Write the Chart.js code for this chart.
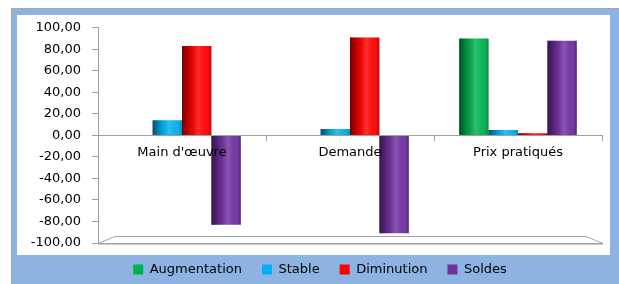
<!DOCTYPE html>
<html><head><meta charset="utf-8">
<script src="https://cdn.jsdelivr.net/npm/chart.js@4"></script>
<style>
html,body{margin:0;padding:0;background:#fff;width:619px;height:284px;overflow:hidden;}
#frame{position:absolute;left:11px;top:8px;width:620px;height:290px;border-left:1px solid #A6A6A6;border-top:1px solid #A6A6A6;background:#8DB3E2;}
#panel{position:absolute;left:17px;top:15px;width:593px;height:240px;background:#fff;}
#c{position:absolute;left:12px;top:9px;}
</style></head><body>
<div id="frame"></div><div id="panel"></div>
<canvas id="c" width="607" height="277"></canvas>
<script>
const categories = ["Main d'œuvre", "Demande", "Prix pratiqués"];
const augmentation = [0, 0, 90];
const stable = [14, 6, 5];
const diminution = [83, 91, 2];
const soldes = [-83, -91, 88];
const seriesNames = ["Augmentation", "Stable", "Diminution", "Soldes"];
const yTicks = [-100, -80, -60, -40, -20, 0, 20, 40, 60, 80, 100];

const FONT = {family: "'DejaVu Sans'", size: 13};

const floorPlugin = {
  id: 'floor',
  afterLayout(chart) {
    if (chart.legend) { chart.legend.left += 26; }
  },
  beforeDatasetsDraw(chart) {
    const {ctx, chartArea: a, scales: {y}} = chart;
    const b = Math.round(y.getPixelForValue(-100));
    ctx.save();
    ctx.strokeStyle = '#A6A6A6';
    ctx.lineWidth = 1;
    ctx.fillStyle = '#fff';
    ctx.beginPath();
    ctx.moveTo(a.left, b + 0.5);
    ctx.lineTo(a.left + 17, b - 6.5);
    ctx.lineTo(a.right - 16, b - 6.5);
    ctx.lineTo(a.right + 1, b + 0.5);
    ctx.closePath();
    ctx.fill();
    ctx.stroke();
    ctx.strokeStyle = '#C8C8C8';
    ctx.beginPath();
    ctx.moveTo(a.left, b + 1.5);
    ctx.lineTo(a.right + 1, b + 1.5);
    ctx.stroke();
    ctx.restore();
  }
};

const shadePlugin = {
  id: 'shade',
  afterDatasetsDraw(chart) {
    const ctx = chart.ctx;
    chart.data.datasets.forEach((ds, i) => {
      const meta = chart.getDatasetMeta(i);
      meta.data.forEach(el => {
        const l = el.x - el.width / 2, r = el.x + el.width / 2;
        const t = Math.min(el.y, el.base), bt = Math.max(el.y, el.base);
        if (bt - t < 0.5) return;
        const g = ctx.createLinearGradient(l, 0, r, 0);
        g.addColorStop(0, 'rgba(0,0,0,0.55)');
        g.addColorStop(0.3, 'rgba(0,0,0,0.12)');
        g.addColorStop(0.55, 'rgba(255,255,255,0.18)');
        g.addColorStop(0.75, 'rgba(255,255,255,0.05)');
        g.addColorStop(1, 'rgba(0,0,0,0.2)');
        ctx.save();
        ctx.fillStyle = g;
        ctx.fillRect(l, t, r - l, bt - t);
        ctx.restore();
      });
    });
  }
};

const colors = ['#00B050', '#00B0F0', '#FF0000', '#7030A0'];
const values = [augmentation, stable, diminution, soldes];

new Chart(document.getElementById('c'), {
  type: 'bar',
  data: {
    labels: categories,
    datasets: seriesNames.map((n, i) => ({
      label: n, data: values[i], backgroundColor: colors[i], borderWidth: 0,
      categoryPercentage: 0.7, barPercentage: 1.0
    }))
  },
  options: {
    responsive: false,
    devicePixelRatio: 1,
    animation: false,
    layout: {padding: {left: 0, right: 17, top: 17, bottom: 0}},
    plugins: {
      legend: {
        position: 'bottom',
        labels: {font: FONT, color: '#000', boxWidth: 10, boxHeight: 10, padding: 20}
      },
      tooltip: {enabled: false},
      title: {display: false}
    },
    scales: {
      x: {
        position: {y: 0},
        grid: {display: true, drawOnChartArea: false, drawTicks: true, tickLength: 5, color: '#A0A0A0', offset: true, z: 1},
        border: {color: '#A0A0A0', z: 1},
        ticks: {font: FONT, color: '#000', padding: 4, maxRotation: 0, z: 1}
      },
      y: {
        min: -100, max: 100,
        afterFit(s) { s.width = 86; },
        afterBuildTicks(s) { s.ticks = yTicks.map(v => ({value: v})); },
        grid: {drawOnChartArea: false, drawTicks: true, tickLength: 6, color: '#A0A0A0'},
        border: {color: '#A0A0A0'},
        ticks: {font: FONT, color: '#000', padding: 11,
          callback: v => v.toFixed(2).replace('.', ',')}
      }
    }
  },
  plugins: [floorPlugin, shadePlugin]
});
</script>
</body></html>
